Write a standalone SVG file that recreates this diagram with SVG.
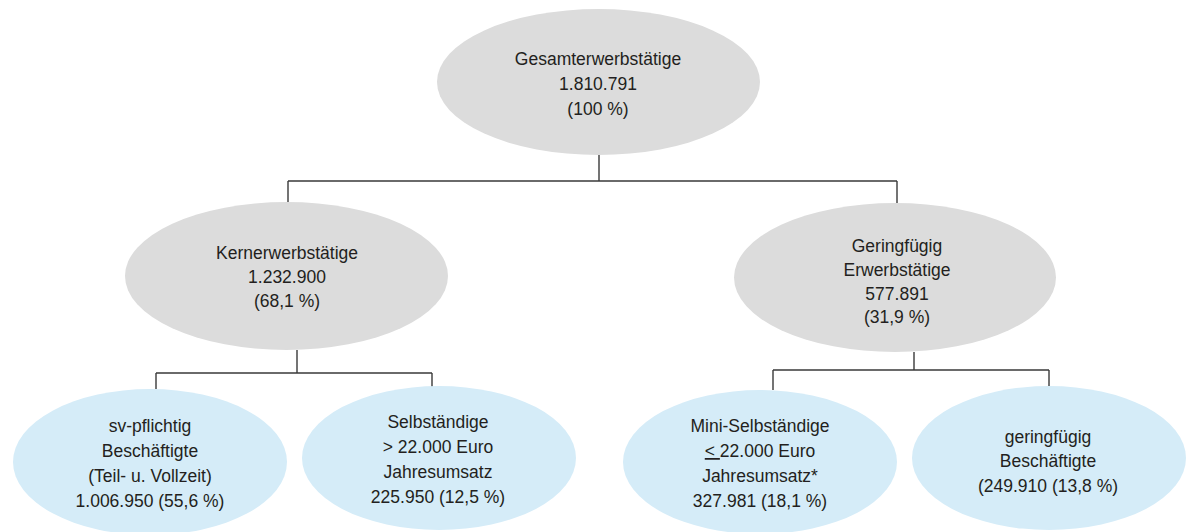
<svg xmlns="http://www.w3.org/2000/svg" width="1193" height="532" viewBox="0 0 1193 532">
<style>
.g{fill:#dcdcdc}
.b{fill:#d5ecf8}
text{font-family:"Liberation Sans",Arial,sans-serif;font-size:17.5px;fill:#231f20;text-anchor:middle}
.c{stroke:#3a3a3a;stroke-width:1.4;fill:none}
</style>
<rect width="1193" height="532" fill="#ffffff"/>
<g id="connectors" class="c">
<path d="M599 155V181M288 181H897M288 181V202M897 181V203"/>
<path d="M297 350V373M156 373H432M156 373V389M432 373V387"/>
<path d="M914 352V370M773 370H1049M773 370V390M1049 370V386"/>
</g>
<g id="gesamt">
<ellipse class="g" cx="598.5" cy="82" rx="161.5" ry="73"/>
<text x="598" y="65">Gesamterwerbstätige</text>
<text x="598" y="90">1.810.791</text>
<text x="598" y="115">(100 %)</text>
</g>
<g id="kern">
<ellipse class="g" cx="286.5" cy="276" rx="161.5" ry="74"/>
<text x="287" y="259">Kernerwerbstätige</text>
<text x="287" y="283">1.232.900</text>
<text x="287" y="307">(68,1 %)</text>
</g>
<g id="gering">
<ellipse class="g" cx="895" cy="277.5" rx="161" ry="74.5"/>
<text x="897" y="252">Geringfügig</text>
<text x="897" y="275.5">Erwerbstätige</text>
<text x="897" y="299.5">577.891</text>
<text x="897" y="323">(31,9 %)</text>
</g>
<g id="sv">
<ellipse class="b" cx="150" cy="462" rx="137" ry="73"/>
<text x="150" y="432">sv-pflichtig</text>
<text x="150" y="457">Beschäftigte</text>
<text x="150" y="482">(Teil- u. Vollzeit)</text>
<text x="150" y="507">1.006.950 (55,6 %)</text>
</g>
<g id="selb">
<ellipse class="b" cx="439" cy="458" rx="137" ry="72"/>
<text x="438" y="428">Selbständige</text>
<text x="438" y="453">&gt; 22.000 Euro</text>
<text x="438" y="478">Jahresumsatz</text>
<text x="438" y="503">225.950 (12,5 %)</text>
</g>
<g id="mini">
<ellipse class="b" cx="760" cy="462" rx="137" ry="72"/>
<text x="760" y="432">Mini-Selbständige</text>
<text x="760" y="457"><tspan text-decoration="underline">&lt; </tspan>22.000 Euro</text>
<text x="760" y="482">Jahresumsatz*</text>
<text x="760" y="507">327.981 (18,1 %)</text>
</g>
<g id="gb">
<ellipse class="b" cx="1049" cy="458" rx="137" ry="72"/>
<text x="1048" y="443">geringfügig</text>
<text x="1048" y="467">Beschäftigte</text>
<text x="1048" y="492">(249.910 (13,8 %)</text>
</g>
</svg>
